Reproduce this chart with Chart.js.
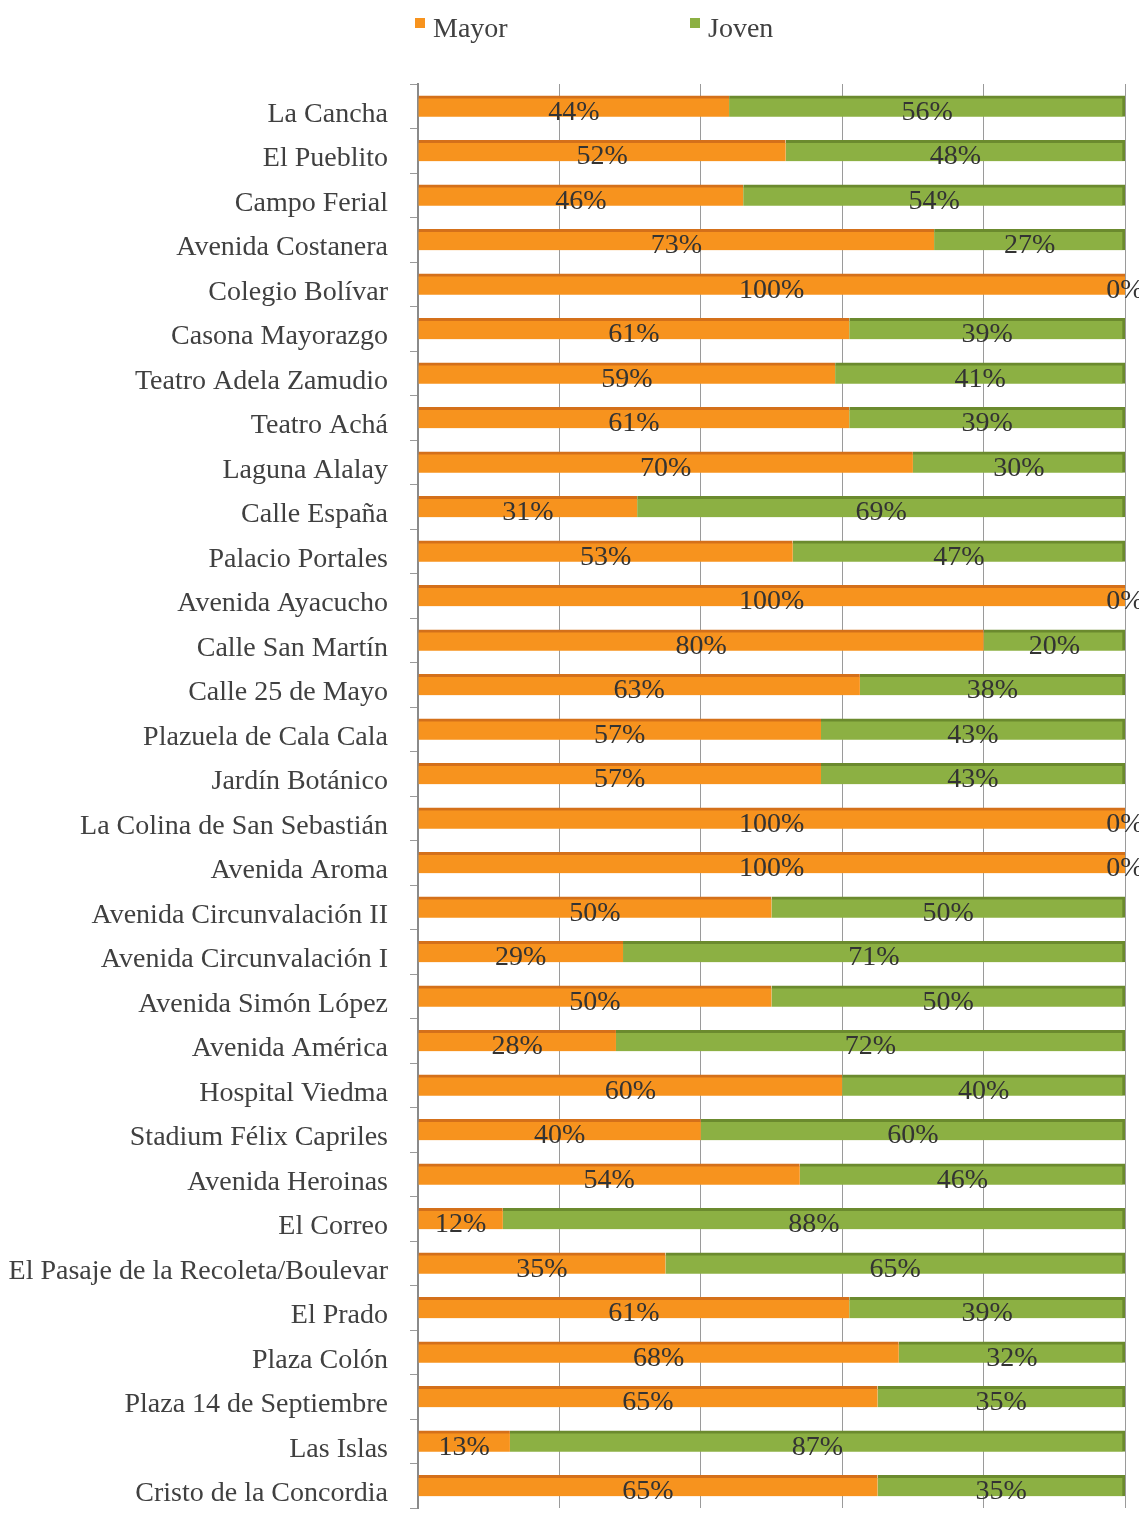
<!DOCTYPE html>
<html>
<head>
<meta charset="utf-8">
<script src="https://cdn.jsdelivr.net/npm/chart.js@4"></script>
<style>
  html, body { margin: 0; padding: 0; background: #fff; }
  #wrap { position: relative; width: 1139px; height: 1514px; }
  .legend { position: absolute; top: 12px; font: 28px "Liberation Serif", "Times New Roman", serif; color: #404040; }
  .legend i { display: inline-block; width: 10px; height: 10px; vertical-align: top; margin-top: 6px; margin-right: 8px; }
</style>
</head>
<body>
<div id="wrap">
  <div class="legend" style="left:415px"><i style="background:#f7931e"></i>Mayor</div>
  <div class="legend" style="left:690px"><i style="background:#8cb043"></i>Joven</div>
  <canvas id="chart" width="1139" height="1514"></canvas>
</div>
<script>
// Survey results by place, share of older vs younger visitors (%)
const places = [
  "La Cancha", "El Pueblito", "Campo Ferial", "Avenida Costanera", "Colegio Bolívar",
  "Casona Mayorazgo", "Teatro Adela Zamudio", "Teatro Achá", "Laguna Alalay", "Calle España",
  "Palacio Portales", "Avenida Ayacucho", "Calle San Martín", "Calle 25 de Mayo",
  "Plazuela de Cala Cala", "Jardín Botánico", "La Colina de San Sebastián", "Avenida Aroma",
  "Avenida Circunvalación II", "Avenida Circunvalación I", "Avenida Simón López",
  "Avenida América", "Hospital Viedma", "Stadium Félix Capriles", "Avenida Heroinas",
  "El Correo", "El Pasaje de la Recoleta/Boulevar", "El Prado", "Plaza Colón",
  "Plaza 14 de Septiembre", "Las Islas", "Cristo de la Concordia"
];
const mayor = [44, 52, 46, 73, 100, 61, 59, 61, 70, 31, 53, 100, 80, 62.5, 57, 57, 100, 100,
  50, 29, 50, 28, 60, 40, 54, 12, 35, 61, 68, 65, 13, 65];
const joven = [56, 48, 54, 27, 0, 39, 41, 39, 30, 69, 47, 0, 20, 37.5, 43, 43, 0, 0,
  50, 71, 50, 72, 40, 60, 46, 88, 65, 39, 32, 35, 87, 35];
const xTicks = [0, 20, 40, 60, 80, 100];

const SERIF = '"Liberation Serif", "Times New Roman", serif';

const segmentLabels = {
  id: "segmentLabels",
  afterDatasetsDraw(chart) {
    const ctx = chart.ctx;
    ctx.save();
    ctx.font = "28px " + SERIF;
    ctx.fillStyle = "#333";
    ctx.textAlign = "center";
    ctx.textBaseline = "middle";
    chart.data.datasets.forEach((ds, di) => {
      chart.getDatasetMeta(di).data.forEach((bar, i) => {
        const v = ds.data[i];
        const x = (bar.x + bar.base) / 2;
        ctx.fillText(Math.round(v) + "%", x, bar.y + 6);
      });
    });
    ctx.restore();
  }
};

new Chart(document.getElementById("chart"), {
  type: "bar",
  data: {
    labels: places,
    datasets: [
      {
        label: "Mayor",
        data: mayor,
        backgroundColor: "#f7931e",
        borderColor: "#d4701a",
        borderWidth: { top: 3, right: 0, bottom: 0, left: 0 },
        borderSkipped: false,
        barThickness: 21
      },
      {
        label: "Joven",
        data: joven,
        backgroundColor: "#8cb043",
        borderColor: "#6b8a2e",
        borderWidth: { top: 3, right: 3, bottom: 0, left: 0 },
        borderSkipped: false,
        barThickness: 21
      }
    ]
  },
  options: {
    indexAxis: "y",
    responsive: false,
    animation: false,
    layout: { padding: { top: 84, bottom: 6, right: 14, left: 0 } },
    plugins: {
      legend: { display: false },
      tooltip: { enabled: false }
    },
    scales: {
      x: {
        stacked: true,
        min: 0,
        max: 100,
        afterBuildTicks: scale => { scale.ticks = xTicks.map(v => ({ value: v })); },
        afterFit: scale => { scale.height = 0; },
        ticks: { display: false },
        grid: { color: "#9a9a9a", lineWidth: 1, drawTicks: false },
        border: { display: false }
      },
      y: {
        stacked: true,
        afterFit: scale => {
          scale.width = 418;
          scale.paddingTop = 0;
          scale.paddingBottom = 0;
        },
        ticks: {
          color: "#404040",
          font: { family: SERIF, size: 28 },
          padding: 22,
          labelOffset: 8
        },
        grid: { offset: true, drawOnChartArea: false, tickLength: 8, color: "#9a9a9a" },
        border: { display: true, color: "#8a8a8a", width: 2 }
      }
    }
  },
  plugins: [segmentLabels]
});
</script>
</body>
</html>
